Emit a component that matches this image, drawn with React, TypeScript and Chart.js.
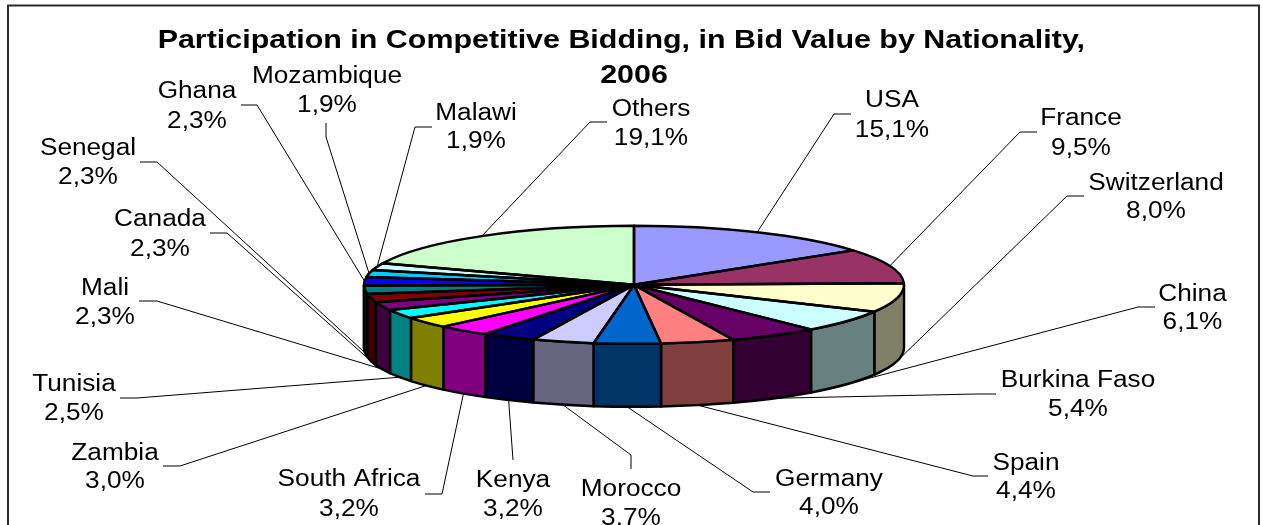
import React, { useEffect, useRef } from "react";
import { Chart, registerables } from "chart.js";

Chart.register(...registerables);

const titleLines = ["Participation in Competitive Bidding, in Bid Value by Nationality,   ", "2006"];
const countries = ["USA", "France", "Switzerland", "China", "Burkina Faso", "Spain", "Germany", "Morocco", "Kenya", "South Africa", "Zambia", "Tunisia", "Mali", "Canada", "Senegal", "Ghana", "Mozambique", "Malawi", "Others"];
const shares = [15.1, 9.5, 8.0, 6.1, 5.4, 4.4, 4.0, 3.7, 3.2, 3.2, 3.0, 2.5, 2.3, 2.3, 2.3, 2.3, 1.9, 1.9, 19.1];
const sliceColors = ["#9999FF", "#993366", "#FFFFCC", "#CCFFFF", "#660066", "#FF8080", "#0066CC", "#CCCCFF", "#000080", "#FF00FF", "#FFFF00", "#00FFFF", "#800080", "#800000", "#008080", "#0000FF", "#00CCFF", "#CCFFFF", "#CCFFCC"];

// Label layout: text centre x, cap centre y of the first line, cap centre y of the second line.
const labelCentres = [[892, 99, 129], [1081, 117, 147], [1156, 182, 210], [1192.5, 293, 321], [1078, 379, 408], [1026, 462, 490], [829, 478, 506], [631, 488, 517], [513, 479, 508], [349, 478, 508], [115, 452, 480], [74, 383, 412], [105, 287, 316], [160, 218, 248], [88, 147, 176], [197, 90, 120], [327, 75, 104], [476, 112, 140], [651, 108, 137]];
// Leader-line start at the label and its elbow; the other end comes from the slice geometry.
const leaderElbows = [
  [[851, 114], [834, 114]], [[1037, 132], [1020, 132]], [[1084, 196], [1067, 196]], [[1155, 307], [1138, 307]],
  [[996, 394], [976, 394]], [[988, 476], [973, 476]], [[770, 492], [753, 492]], [[631, 469], [631, 455]],
  [[513, 460], [513, 460]], [[425, 494], [442, 494]], [[163, 466], [180, 466]], [[120, 398], [137, 398]],
  [[139, 301], [157, 301]], [[210, 233], [227, 233]], [[140, 162], [157, 162]], [[241, 105], [257, 105]],
  [[326, 123], [326, 137]], [[432, 127], [415, 127]], [[607, 122], [590, 122]],
];

const SQUASH = 59 / 270;
const DEPTH = 63;
const TEXT_STRETCH = 1.14;
const TITLE_STRETCH = 1.17;
const EDGE = 2.5;

const halfTone = (hex: string) => {
  const n = parseInt(hex.slice(1), 16);
  const c = [(n >> 16) & 255, (n >> 8) & 255, n & 255].map((v) => Math.round(v / 2));
  return `rgb(${c[0]},${c[1]},${c[2]})`;
};

const piePlugin = {
  id: "pie3d",
  beforeDraw(chart: any) {
    const { ctx } = chart;
    ctx.save();
    ctx.fillStyle = "#fff";
    ctx.fillRect(0, 0, chart.width, chart.height);
    ctx.strokeStyle = "#2a2a2a";
    ctx.lineWidth = 2;
    ctx.beginPath();
    ctx.moveTo(8, 540);
    ctx.lineTo(8, 5.5);
    ctx.lineTo(1259, 5.5);
    ctx.lineTo(1259, 540);
    ctx.stroke();
    ctx.restore();
    // widen the title, which is the only layout box
    ctx.save();
    const c = chart.getDatasetMeta(0).data[0].x;
    ctx.translate(c, 0);
    ctx.scale(TITLE_STRETCH, 1);
    ctx.translate(-c, 0);
  },
  beforeDatasetsDraw(chart: any) {
    const { ctx } = chart;
    ctx.restore();
    const arcs = chart.getDatasetMeta(0).data;
    ctx.save();
    ctx.lineWidth = EDGE;
    ctx.lineJoin = "round";
    ctx.strokeStyle = "#000";
    arcs.forEach((arc: any, i: number) => {
      // only the part of the rim facing the viewer is visible
      const a0 = Math.max(arc.startAngle, 0);
      const a1 = Math.min(arc.endAngle, Math.PI);
      if (a1 <= a0) return;
      const ry = arc.outerRadius * SQUASH;
      ctx.beginPath();
      ctx.ellipse(arc.x, arc.y, arc.outerRadius, ry, 0, a0, a1);
      ctx.ellipse(arc.x, arc.y + DEPTH, arc.outerRadius, ry, 0, a1, a0, true);
      ctx.closePath();
      ctx.fillStyle = halfTone(sliceColors[i]);
      ctx.fill();
      ctx.stroke();
    });
    ctx.restore();
  },
  beforeDatasetDraw(chart: any) {
    const { ctx } = chart;
    const arc = chart.getDatasetMeta(0).data[0];
    ctx.save();
    ctx.translate(arc.x, arc.y);
    ctx.scale(1, SQUASH);
    ctx.translate(-arc.x, -arc.y);
  },
  afterDatasetDraw(chart: any) {
    const { ctx } = chart;
    ctx.restore();
    const arcs = chart.getDatasetMeta(0).data;
    ctx.save();
    ctx.lineWidth = EDGE;
    ctx.lineJoin = "round";
    ctx.strokeStyle = "#000";
    arcs.forEach((arc: any) => {
      ctx.beginPath();
      ctx.moveTo(arc.x, arc.y);
      ctx.ellipse(arc.x, arc.y, arc.outerRadius, arc.outerRadius * SQUASH, 0, arc.startAngle, arc.endAngle);
      ctx.closePath();
      ctx.stroke();
    });
    ctx.restore();
  },
  afterDatasetsDraw(chart: any) {
    const { ctx } = chart;
    const arcs = chart.getDatasetMeta(0).data;
    ctx.save();
    ctx.strokeStyle = "#000";
    ctx.lineWidth = 1;
    arcs.forEach((arc: any, i: number) => {
      const mid = (arc.startAngle + arc.endAngle) / 2;
      const sin = Math.sin(mid);
      const ax = arc.x + arc.outerRadius * Math.cos(mid);
      const ay = arc.y + arc.outerRadius * SQUASH * sin + (sin > 0 ? DEPTH : 0);
      const [p, q] = leaderElbows[i];
      ctx.beginPath();
      ctx.moveTo(p[0], p[1]);
      ctx.lineTo(q[0], q[1]);
      ctx.lineTo(ax, ay);
      ctx.stroke();
    });
    ctx.fillStyle = "#000";
    ctx.font = '23px "Liberation Sans"';
    ctx.textAlign = "center";
    ctx.textBaseline = "alphabetic";
    countries.forEach((name, i) => {
      const [x, y1, y2] = labelCentres[i];
      const pct = shares[i].toFixed(1).replace(".", ",") + "%";
      ctx.save();
      ctx.translate(x, 0);
      ctx.scale(TEXT_STRETCH, 1);
      ctx.fillText(name, 0, y1 + 8);
      ctx.fillText(pct, 0, y2 + 8);
      ctx.restore();
    });
    ctx.restore();
  },
};

export default function App() {
  const ref = useRef<HTMLCanvasElement>(null);
  useEffect(() => {
    const chart = new Chart(ref.current!, {
      type: "pie",
      data: {
        labels: countries,
        datasets: [{ data: shares, backgroundColor: sliceColors, borderWidth: 0, clip: false } as any],
      },
      options: {
        responsive: false,
        animation: false,
        radius: 270,
        layout: { padding: { left: 5, right: 0, top: 0, bottom: 49 } },
        plugins: {
          legend: { display: false },
          tooltip: { enabled: false },
          title: {
            display: true,
            text: titleLines,
            color: "#000",
            font: { family: '"Liberation Sans"', size: 26, weight: "bold", lineHeight: 1.35 },
            padding: { top: 23.5, bottom: 0 },
          },
        },
      } as any,
      plugins: [piePlugin],
    });
    return () => chart.destroy();
  }, []);
  return (
    <div style={{ position: "absolute", left: 0, top: 0, width: 1263, height: 525 }}>
      <canvas ref={ref} width={1263} height={525} style={{ display: "block" }} />
    </div>
  );
}
